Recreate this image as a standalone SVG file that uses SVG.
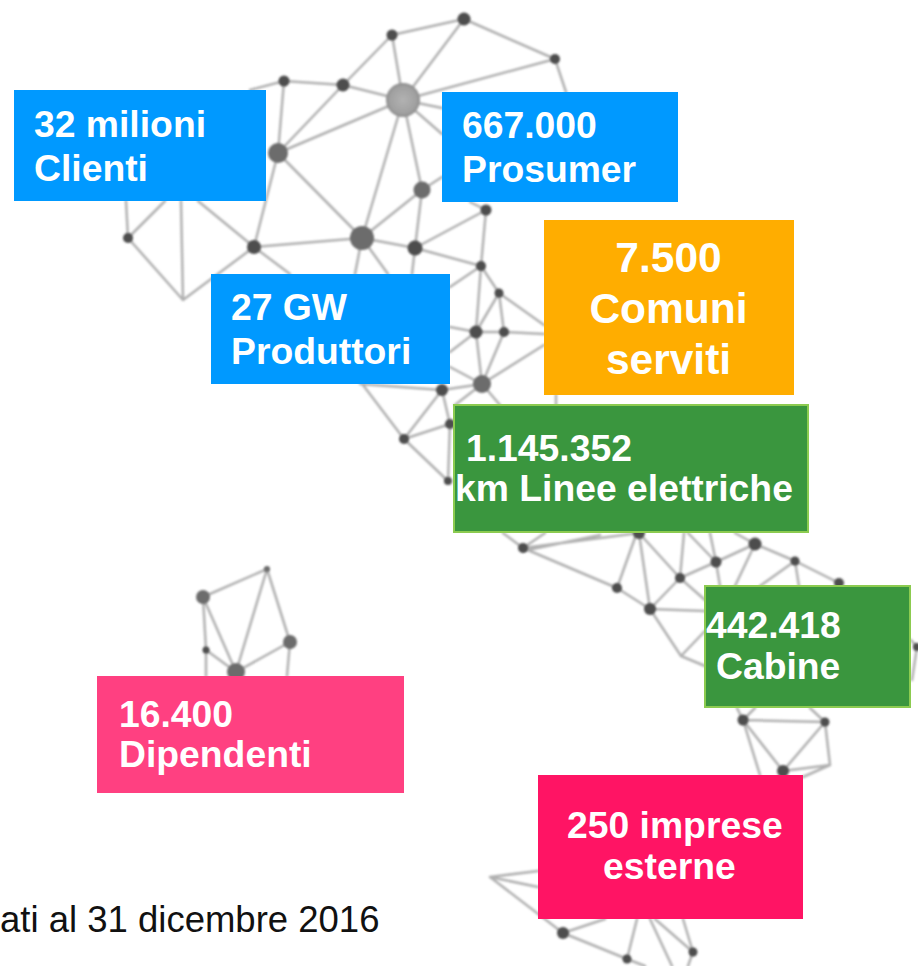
<svg xmlns="http://www.w3.org/2000/svg" width="918" height="966" viewBox="0 0 918 966">
<style>
.l{stroke:#b0b0b0;stroke-width:2.5;fill:none;stroke-linecap:round}
.n{fill:#4d4d4d}
.m{fill:#6c6c6c}
.t{font-family:"Liberation Sans",Arial,sans-serif;font-weight:700;fill:#fff}
.g{fill:#3A963E;stroke:#8CCB50;stroke-width:2}
.s37{font-size:37.3px}.s41{font-size:42.5px}
</style>
<defs>
<filter id="soft" x="-5%" y="-5%" width="110%" height="110%"><feGaussianBlur stdDeviation="1"/></filter>
<radialGradient id="big"><stop offset="0" stop-color="#b2b2b2"/><stop offset="0.8" stop-color="#a0a0a0"/><stop offset="1" stop-color="#8a8a8a"/></radialGradient>
</defs>
<rect width="918" height="966" fill="#fff"/>
<g id="connectors" filter="url(#soft)">
<path class="l" d="M464 19L392 35M464 19L555 59M464 19L403 100M392 35L403 100M392 35L343 85M555 59L403 100M555 59L566 92M284 81L343 85M284 81L250 90M343 85L403 100M343 85L278 153M284 81L278 153M403 100L278 153M403 100L362 238M403 100L422 190M403 100L442 108M403 100L442 134M278 153L362 238M278 153L254 247M362 238L422 190M422 190L442 177M422 190L415 248M362 238L415 248M254 247L362 238M415 248L486 210M415 248L481 266M486 210L481 266M486 210L470 202M254 247L198 201M128 238L126 201M128 238L165 201M128 238L183 300M183 300L181 201M183 300L254 247M254 247L290 274M362 238L355 274M362 238L388 274M415 248L412 274M481 266L476 332M481 266L450 287M481 266L499 293M499 293L504 332M499 293L476 332M499 293L544 325M476 332L504 332M504 332L544 334M476 332L482 384M504 332L482 384M482 384L544 345M450 327L476 332M450 352L476 332M450 367L482 384M482 384L442 390M360 384L442 390M363 385L404 439M442 390L404 439M404 439L450 424M404 439L448 481M442 390L450 424M450 424L448 481M482 384L455 405M482 384L500 405M556 395L556 405"/>
<path class="l" d="M523 548L639 533M523 551L600 535M523 548L617 588M523 548L503 533M523 548L545 533M617 588L636 535M617 588L650 609M639 533L650 609M639 533L680 578M680 578L650 609M680 578L716 562M716 562L755 544M680 578L705 600M684 533L680 578M688 533L716 562M710 533L716 562M716 562L720 586M755 544L735 586M755 544L795 561M795 561L760 586M795 561L799 586M795 561L839 583M735 533L755 544M650 609L705 611M650 609L681 656M681 656L705 631M681 656L705 666M911 640L917 647M917 647L912 680M743 720L825 722M743 720L783 771M825 722L783 771M825 722L830 765M783 771L830 765M743 720L760 775M743 720L737 708M743 720L755 708M825 722L810 708M830 765L803 777"/>
<path class="l" d="M490 877L538 871M490 877L538 887M490 877L563 933M563 933L605 919M563 933L627 959M627 959L637 919M627 959L645 966M650 919L672 966M655 919L693 952M683 919L693 952M693 952L688 966"/>
<path class="l" d="M203 597L267 569M267 569L236 672M267 569L290 642M203 597L236 672M203 597L206 650M206 650L236 672M290 642L236 672M290 642L287 676M206 650L206 676"/>
</g>
<g id="network-nodes" filter="url(#soft)">
<circle id="n1" class="n" cx="464" cy="19" r="6.5"/>
<circle id="n2" class="n" cx="392" cy="35" r="5.5"/>
<circle id="n3" class="n" cx="555" cy="59" r="5"/>
<circle id="n4" class="n" cx="284" cy="81" r="5.5"/>
<circle id="n5" class="n" cx="343" cy="85" r="6.5"/>
<circle id="n6" fill="url(#big)" cx="403" cy="100" r="17"/>
<circle id="n7" class="m" cx="278" cy="153" r="10"/>
<circle id="n8" class="m" cx="422" cy="190" r="8.5"/>
<circle id="n9" class="n" cx="486" cy="210" r="5.5"/>
<circle id="n10" class="m" cx="362" cy="238" r="12"/>
<circle id="n11" class="n" cx="415" cy="248" r="7.5"/>
<circle id="n12" class="n" cx="254" cy="247" r="7"/>
<circle id="n13" class="n" cx="128" cy="238" r="5"/>
<circle id="n14" class="n" cx="481" cy="266" r="5"/>
<circle id="n15" class="n" cx="499" cy="293" r="4.5"/>
<circle id="n16" class="n" cx="476" cy="332" r="6.5"/>
<circle id="n17" class="n" cx="504" cy="332" r="5"/>
<circle id="n18" class="m" cx="482" cy="384" r="9"/>
<circle id="n19" class="n" cx="442" cy="390" r="6"/>
<circle id="n20" class="n" cx="450" cy="424" r="5"/>
<circle id="n21" class="n" cx="404" cy="439" r="5"/>
<circle id="n22" class="n" cx="448" cy="481" r="4"/>
<circle id="n23" class="n" cx="523" cy="548" r="5"/>
<circle id="n24" class="n" cx="755" cy="544" r="6.5"/>
<circle id="n25" class="n" cx="795" cy="561" r="4.5"/>
<circle id="n26" class="n" cx="839" cy="583" r="5"/>
<circle id="n27" class="n" cx="716" cy="562" r="5.5"/>
<circle id="n28" class="n" cx="680" cy="578" r="5"/>
<circle id="n29" class="n" cx="617" cy="588" r="5"/>
<circle id="n30" class="n" cx="650" cy="609" r="6"/>
<circle id="n31" class="n" cx="639" cy="533" r="6"/>
<circle id="n32" class="n" cx="743" cy="720" r="5.5"/>
<circle id="n33" class="n" cx="825" cy="722" r="4.5"/>
<circle id="n34" class="n" cx="783" cy="771" r="6"/>
<circle id="n35" class="n" cx="917" cy="647" r="4"/>
<circle id="n36" class="n" cx="563" cy="933" r="6"/>
<circle id="n37" class="n" cx="627" cy="959" r="4.5"/>
<circle id="n38" class="n" cx="693" cy="952" r="4.5"/>
<circle id="n39" class="m" cx="203" cy="597" r="7"/>
<circle id="n40" class="m" cx="267" cy="569" r="3"/>
<circle id="n41" class="m" cx="290" cy="642" r="7"/>
<circle id="n42" class="n" cx="206" cy="650" r="3.5"/>
<circle id="n43" class="m" cx="236" cy="672" r="9"/>
</g>
<g id="clienti"><rect x="14" y="90" width="252" height="111" fill="#0099FF"/><text class="t s37" x="34" y="137">32 milioni</text><text class="t s37" x="34" y="181">Clienti</text></g>
<g id="prosumer"><rect x="442" y="92" width="236" height="110" fill="#0099FF"/><text class="t s37" x="462" y="138">667.000</text><text class="t s37" x="462" y="182">Prosumer</text></g>
<g id="produttori"><rect x="211" y="274" width="239" height="110" fill="#0099FF"/><text class="t s37" x="231" y="320">27 GW</text><text class="t s37" x="231" y="364">Produttori</text></g>
<g id="comuni"><rect x="544" y="220" width="250" height="175" fill="#FFAD00"/><text class="t s41" x="668.500" y="272" text-anchor="middle">7.500</text><text class="t s41" x="668.500" y="323" text-anchor="middle">Comuni</text><text class="t s41" x="668.500" y="374" text-anchor="middle">serviti</text></g>
<g id="linee"><rect class="g" x="454" y="405" width="354" height="127"/><text class="t s37" x="466" y="461">1.145.352</text><text class="t s37" x="455" y="501">km Linee elettriche</text></g>
<g id="cabine"><rect class="g" x="705" y="586" width="205" height="121"/><text class="t s37" x="706" y="638">442.418</text><text class="t s37" x="716" y="679">Cabine</text></g>
<g id="dipendenti"><rect x="97" y="676" width="307" height="117" fill="#FF4081"/><text class="t s37" x="119" y="727">16.400</text><text class="t s37" x="119" y="767">Dipendenti</text></g>
<g id="imprese"><rect x="538" y="775" width="265" height="144" fill="#FF1464"/><text class="t s37" x="567" y="838">250 imprese</text><text class="t s37" x="603" y="879">esterne</text></g>
<text id="nota" x="0" y="932" font-family="'Liberation Sans',Arial,sans-serif" font-size="36.5" fill="#111">ati al 31 dicembre 2016</text>
</svg>
